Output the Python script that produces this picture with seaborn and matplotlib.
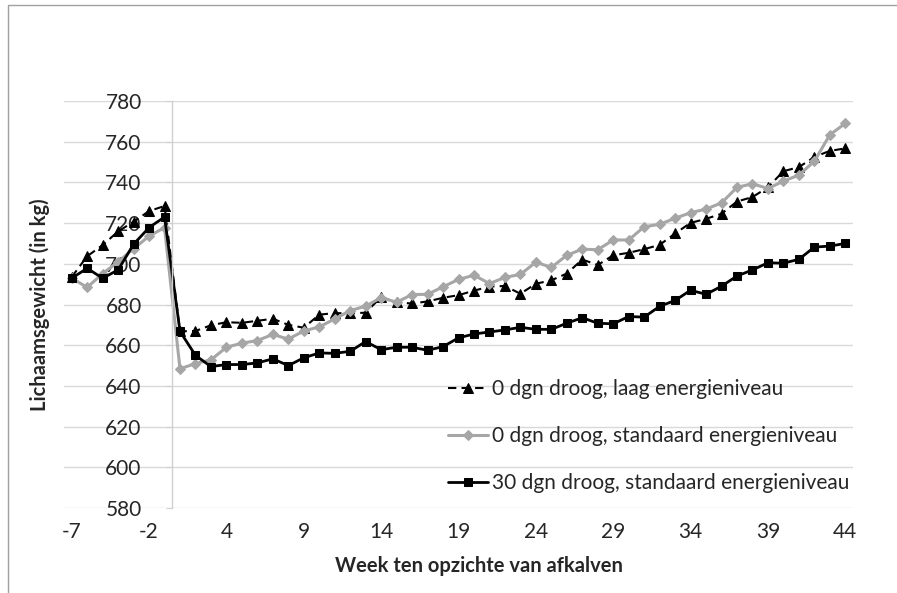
import numpy as np
import pandas as pd
import seaborn as sns
import matplotlib.pyplot as plt
from matplotlib.patches import Rectangle

# weeks relative to calving (no week 0)
weeks = list(range(-7, 0)) + list(range(1, 45))

# body weight per week (kg)
laag_0dgn = [693.5, 703.7, 709.2, 715.9, 720.7, 725.9, 728.4,
             666.8, 667.0, 669.8, 671.3, 671.0, 672.0, 673.0, 670.0, 668.6, 675.0,
             675.8, 675.6, 676.0, 683.7, 681.0, 680.5, 681.5, 683.3, 684.6, 686.8,
             688.8, 689.1, 685.3, 690.2, 691.9, 695.2, 702.1, 699.4, 704.2, 705.4,
             707.2, 709.3, 714.9, 720.1, 722.1, 724.6, 730.6, 732.8, 737.6, 745.5,
             747.5, 752.5, 755.5, 756.7]
standaard_0dgn = [693.0, 688.4, 695.2, 701.0, 707.4, 713.6, 717.8,
                  648.4, 651.0, 652.8, 659.0, 661.0, 662.3, 665.3, 663.0, 667.0, 669.0,
                  672.9, 677.0, 679.2, 683.4, 681.1, 684.9, 685.0, 688.7, 692.3, 694.4,
                  690.3, 693.3, 694.8, 700.8, 698.2, 704.2, 707.2, 706.9, 711.7, 711.7,
                  718.2, 719.4, 722.4, 725.1, 726.9, 729.9, 737.6, 739.3, 737.0, 740.6,
                  743.6, 750.4, 763.4, 769.0]
standaard_30dgn = [692.9, 697.8, 692.9, 697.0, 709.6, 717.8, 723.0,
                   666.8, 655.0, 649.5, 650.5, 650.5, 651.3, 653.3, 650.0, 653.8, 656.2,
                   656.0, 657.0, 661.8, 657.8, 659.0, 659.0, 657.5, 659.3, 663.6, 665.5,
                   666.5, 667.5, 668.8, 667.8, 667.8, 670.8, 673.5, 670.8, 670.5, 674.1,
                   673.8, 679.1, 682.0, 687.0, 685.0, 689.0, 694.0, 697.0, 700.5, 700.3,
                   702.2, 708.2, 708.7, 710.0]

labels = ["0 dgn droog, laag energieniveau",
          "0 dgn droog, standaard energieniveau",
          "30 dgn droog, standaard energieniveau"]

sns.set_style("white")
plt.rcParams['font.family'] = ['Lato', 'DejaVu Sans']

df = pd.DataFrame({"pos": np.arange(len(weeks)),
                   "laag": laag_0dgn,
                   "std0": standaard_0dgn,
                   "std30": standaard_30dgn})

fig = plt.figure(figsize=(8.97, 5.93), dpi=100)
ax = fig.add_axes([0.0713, 0.1433, 0.8797, 0.6864])

# horizontal gridlines
for v in range(580, 781, 20):
    ax.axhline(v, color="#d9d9d9", lw=1, zorder=0)

sns.lineplot(data=df, x="pos", y="laag", ax=ax, color="black", lw=1.5,
             marker="^", markersize=7, markeredgecolor="black",
             linestyle=(0, (4, 2.5)), label=labels[0])
sns.lineplot(data=df, x="pos", y="std0", ax=ax, color="#a6a6a6", lw=2.2,
             marker="D", markersize=5.5, markeredgecolor="#a6a6a6",
             label=labels[1])
sns.lineplot(data=df, x="pos", y="std30", ax=ax, color="black", lw=2,
             marker="s", markersize=5.5, markeredgecolor="black",
             label=labels[2])

ax.set_xlim(-0.5, len(weeks) - 0.5)
ax.set_ylim(580, 780)
ax.set_yticks(range(580, 781, 20))

tick_pos = list(range(0, len(weeks), 5))
ax.set_xticks(tick_pos)
ax.set_xticklabels([str(weeks[i]) for i in tick_pos])

# vertical axis sits between week -1 and week 1
for s in ["top", "right", "bottom"]:
    ax.spines[s].set_visible(False)
ax.spines["left"].set_position(("data", 6.5))
ax.spines["left"].set_color("#d0d0d0")
ax.spines["left"].set_linewidth(1)

ax.tick_params(axis="y", length=4, color="#d0d0d0", pad=18, labelsize=15,
               labelcolor="#262626", direction="out", left=True)
ax.tick_params(axis="x", length=0, pad=10, labelsize=15, labelcolor="#262626")

ax.set_xlabel("Week ten opzichte van afkalven", fontsize=14.5,
              fontweight="bold")
ax.xaxis.set_label_coords((479 - 64) / 789, -0.118)
ax.set_ylabel("")
fig.text(40 / 897, 1 - 305 / 593, "Lichaamsgewicht (in kg)", rotation=90,
         ha="center", va="center", fontsize=14.5, fontweight="bold")

ax.legend(loc="upper left", bbox_to_anchor=(448 / 897, 1 - 379 / 593),
          bbox_transform=fig.transFigure, frameon=False, fontsize=15,
          handlelength=1.9, handletextpad=0.2, labelspacing=1.3,
          borderpad=0, borderaxespad=0)

# outer chart border
fig.patches.append(Rectangle((8 / 897, -0.1), 1.2, 1 - 5 / 593 + 0.1,
                             transform=fig.transFigure, fill=False,
                             edgecolor="#a0a0a0", lw=1))

fig.savefig("out.png", dpi=100)
